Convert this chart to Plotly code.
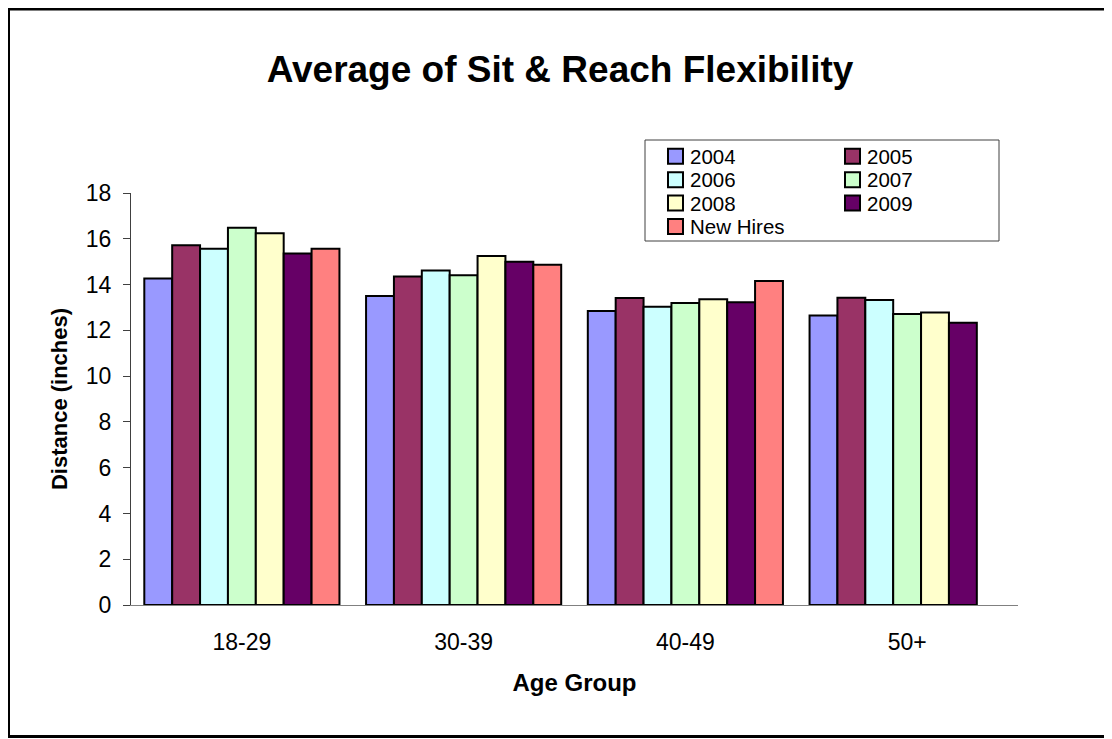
import plotly.graph_objects as go

# ---- data ----
age_groups = ["18-29", "30-39", "40-49", "50+"]
series_names = ["2004", "2005", "2006", "2007", "2008", "2009", "New Hires"]

v2004 = [14.27, 13.50, 12.85, 12.65]
v2005 = [15.72, 14.35, 13.41, 13.42]
v2006 = [15.56, 14.61, 13.03, 13.33]
v2007 = [16.48, 14.41, 13.19, 12.71]
v2008 = [16.24, 15.25, 13.36, 12.78]
v2009 = [15.36, 15.00, 13.23, 12.33]
new_hires = [15.56, 14.86, 14.15, None]

series_values = [v2004, v2005, v2006, v2007, v2008, v2009, new_hires]
colors = ["#9999FF", "#993366", "#CCFFFF", "#CCFFCC", "#FFFFCC", "#660066", "#FF8080"]

FONT = "Arial, Liberation Sans, sans-serif"

# the page body has an 8px margin, so the figure is drawn 8px in from the corner
OFF = 8
W, H = 1112 - OFF, 739 - OFF
PLOT_L, PLOT_R, PLOT_T, PLOT_B = 131 - OFF, 1018 - OFF, 193 - OFF, 605 - OFF
PW, PH = PLOT_R - PLOT_L, PLOT_B - PLOT_T


# page pixel -> paper coords
def px(x):
    return (x - OFF - PLOT_L) / PW


def py(y):
    return (PLOT_B - (y - OFF)) / PH


fig = go.Figure()
for name, vals, col in zip(series_names, series_values, colors):
    fig.add_trace(go.Bar(
        x=age_groups, y=vals, name=name,
        marker=dict(color=col, line=dict(color="black", width=2)),
        showlegend=False,
    ))

shapes = []
annots = []

# outer frame round the whole chart
shapes.append(dict(type="rect", xref="paper", yref="paper",
                   x0=px(OFF + 0.5), x1=px(1108), y0=py(736.5), y1=py(OFF + 1),
                   line=dict(color="black", width=3), fillcolor="rgba(0,0,0,0)"))

# legend box, two columns, filled row by row like the Excel one
shapes.append(dict(type="rect", xref="paper", yref="paper",
                   x0=px(645), x1=px(999), y0=py(241), y1=py(140),
                   line=dict(color="#404040", width=1), fillcolor="white"))
for i, (name, col) in enumerate(zip(series_names, colors)):
    c, r = i % 2, i // 2
    x0 = 668 + c * 177
    yc = 156.3 + r * 23.4
    shapes.append(dict(type="rect", xref="paper", yref="paper",
                       x0=px(x0), x1=px(x0 + 15), y0=py(yc + 7.5), y1=py(yc - 7.5),
                       line=dict(color="black", width=2), fillcolor=col))
    annots.append(dict(text=name, xref="paper", yref="paper",
                       x=px(x0 + 20), y=py(yc), xanchor="left", yanchor="middle",
                       height=23, valign="middle",
                       showarrow=False, font=dict(size=20.5, color="black", family=FONT)))

fig.update_layout(
    width=W, height=H,
    margin=dict(l=PLOT_L, r=W - PLOT_R, t=PLOT_T, b=H - PLOT_B),
    paper_bgcolor="white", plot_bgcolor="white",
    font=dict(family=FONT, color="black"),
    title=dict(text="<b>Average of Sit & Reach Flexibility</b>",
               x=0.5, xanchor="center", y=1 - (69 - OFF) / H, yanchor="middle",
               font=dict(size=37, color="black")),
    barmode="group", bargap=0.12, bargroupgap=0,
    showlegend=False,
    shapes=shapes, annotations=annots,
    xaxis=dict(
        title=dict(text="<b>Age Group</b>", font=dict(size=24), standoff=20),
        showline=True, linecolor="#808080", linewidth=1,
        ticks="", tickfont=dict(size=23), ticklabelstandoff=16,
        showgrid=False,
    ),
    yaxis=dict(
        title=dict(text="<b>Distance (inches)</b>", font=dict(size=22), standoff=12),
        range=[0, 18], dtick=2, showline=True, linecolor="#404040", linewidth=1,
        ticks="outside", ticklen=7, tickcolor="#404040", tickfont=dict(size=23),
        ticklabelstandoff=7, showgrid=False, zeroline=False,
    ),
)

fig.write_html("out.html")
